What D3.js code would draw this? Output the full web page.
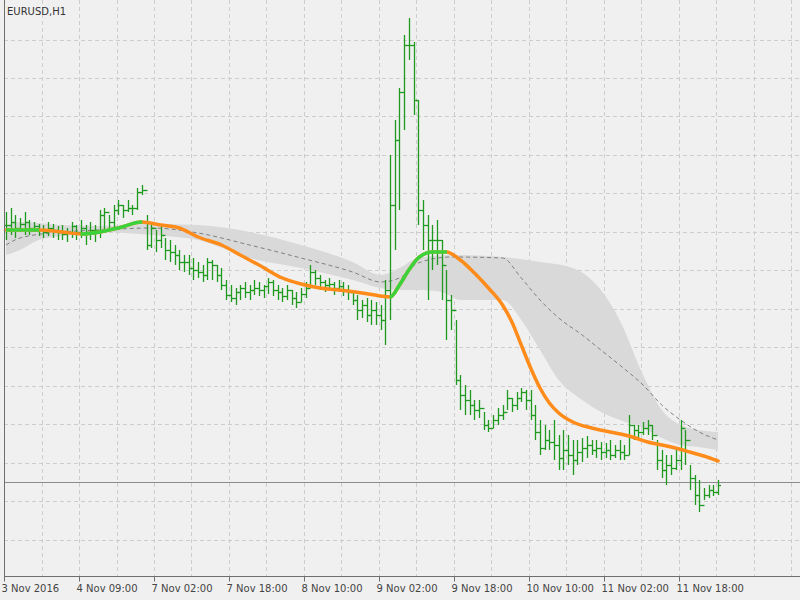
<!DOCTYPE html>
<html><head><meta charset="utf-8">
<script src="https://cdn.jsdelivr.net/npm/d3@7"></script>
<style>body{margin:0;background:#f0f0f0}svg{display:block}</style>
</head><body><svg id="c" width="800" height="600"></svg>
<script>
const highs=[1.1088,1.1092,1.1085,1.1082,1.1088,1.1080,1.1078,1.1076,1.1075,1.1078,1.1076,1.1074,1.1075,1.1072,1.1078,1.1075,1.1080,1.1075,1.1078,1.1075,
1.1090,1.1092,1.1085,1.1095,1.1100,1.1095,1.1100,1.1095,1.1112,1.1115,1.1085,1.1078,1.1070,1.1075,1.1062,1.1060,1.1055,1.1050,1.1045,1.1045,
1.1042,1.1038,1.1035,1.1042,1.1040,1.1035,1.1032,1.1020,1.1015,1.1012,1.1015,1.1018,1.1015,1.1020,1.1018,1.1015,1.1022,1.1020,1.1015,1.1012,
1.1015,1.1010,1.1008,1.1012,1.1018,1.1035,1.1030,1.1025,1.1020,1.1022,1.1018,1.1020,1.1018,1.1015,1.1010,1.1005,1.1000,1.1002,1.1000,1.0998,
1.0995,1.1020,1.1145,1.1180,1.1212,1.1265,1.1282,1.1258,1.1200,1.1100,1.1085,1.1075,1.1080,1.1060,1.1030,1.1005,1.0980,1.0925,1.0915,1.0910,
1.0900,1.0900,1.0888,1.0880,1.0885,1.0892,1.0895,1.0910,1.0902,1.0908,1.0912,1.0910,1.0910,1.0895,1.0880,1.0875,1.0870,1.0880,1.0865,1.0870,
1.0865,1.0860,1.0860,1.0862,1.0864,1.0860,1.0860,1.0858,1.0857,1.0860,1.0855,1.0860,1.0855,1.0885,1.0875,1.0875,1.0878,1.0880,1.0875,1.0860,
1.0850,1.0845,1.0845,1.0850,1.0880,1.0870,1.0835,1.0825,1.0820,1.0812,1.0815,1.0815,1.0820];
const lows=[1.1060,1.1065,1.1062,1.1068,1.1065,1.1065,1.1068,1.1064,1.1062,1.1064,1.1062,1.1060,1.1060,1.1058,1.1062,1.1060,1.1062,1.1055,1.1060,1.1058,
1.1062,1.1068,1.1070,1.1070,1.1085,1.1082,1.1088,1.1085,1.1090,1.1105,1.1050,1.1052,1.1048,1.1052,1.1040,1.1038,1.1035,1.1030,1.1028,1.1025,
1.1020,1.1022,1.1018,1.1020,1.1020,1.1018,1.1010,1.1000,1.0998,1.0995,1.1000,1.1002,1.1000,1.1005,1.1004,1.1002,1.1006,1.1004,1.1000,1.0998,
1.1000,1.0995,1.0992,1.0998,1.1002,1.1012,1.1015,1.1010,1.1008,1.1010,1.1005,1.1008,1.1004,1.1000,1.0995,1.0980,1.0982,1.0978,1.0975,1.0975,
1.0970,1.0955,1.0980,1.1050,1.1090,1.1170,1.1240,1.1185,1.1075,1.1050,1.1000,1.1030,1.1035,1.1000,1.0960,1.0970,1.0915,1.0890,1.0885,1.0885,
1.0880,1.0882,1.0870,1.0868,1.0872,1.0875,1.0880,1.0890,1.0888,1.0890,1.0898,1.0890,1.0880,1.0860,1.0845,1.0850,1.0850,1.0840,1.0830,1.0830,
1.0835,1.0825,1.0835,1.0838,1.0842,1.0845,1.0842,1.0840,1.0842,1.0840,1.0842,1.0840,1.0840,1.0845,1.0860,1.0860,1.0865,1.0865,1.0860,1.0830,
1.0822,1.0815,1.0825,1.0830,1.0830,1.0835,1.0810,1.0795,1.0788,1.0800,1.0802,1.0804,1.0805];
const closes=[1.1075,1.1078,1.1072,1.1076,1.1078,1.1072,1.1074,1.1070,1.1068,1.1072,1.1070,1.1068,1.1066,1.1068,1.1074,1.1068,1.1072,1.1068,1.1070,1.1070,
1.1085,1.1088,1.1078,1.1090,1.1095,1.1090,1.1092,1.1092,1.1108,1.1110,1.1055,1.1072,1.1060,1.1065,1.1050,1.1048,1.1045,1.1038,1.1038,1.1032,
1.1030,1.1028,1.1025,1.1038,1.1035,1.1025,1.1015,1.1005,1.1002,1.1008,1.1012,1.1008,1.1010,1.1012,1.1010,1.1014,1.1018,1.1010,1.1008,1.1004,
1.1010,1.1002,1.0998,1.1006,1.1012,1.1028,1.1022,1.1018,1.1015,1.1016,1.1012,1.1014,1.1010,1.1008,1.1000,1.0990,1.0995,1.0985,1.0990,1.0985,
1.0980,1.1010,1.1095,1.1160,1.1208,1.1255,1.1255,1.1200,1.1090,1.1075,1.1060,1.1060,1.1060,1.1035,1.1000,1.0990,1.0920,1.0905,1.0900,1.0895,
1.0890,1.0892,1.0875,1.0872,1.0880,1.0885,1.0888,1.0902,1.0895,1.0902,1.0908,1.0900,1.0885,1.0868,1.0852,1.0860,1.0858,1.0855,1.0842,1.0850,
1.0845,1.0840,1.0848,1.0852,1.0855,1.0850,1.0852,1.0848,1.0850,1.0845,1.0850,1.0848,1.0845,1.0875,1.0870,1.0868,1.0872,1.0875,1.0865,1.0840,
1.0830,1.0835,1.0832,1.0840,1.0872,1.0860,1.0822,1.0805,1.0795,1.0805,1.0810,1.0808,1.0815];
const maLine=[[0,1.1070],[7,1.1070],[12,1.1068],[16,1.1066],[20,1.1068],[22,1.1070],[24,1.1072],[29,1.1078],[33,1.1075],[37,1.1072],[41,1.1063],[46,1.1055],[50,1.1045],[54,1.1035],[59,1.1022],[63,1.1016],[67,1.1012],[71,1.1010],[76,1.1007],[80,1.1004],[82,1.1003],[84,1.1015],[86,1.1030],[88,1.1042],[91,1.1048],[94,1.1048],[97,1.1040],[100,1.1027],[103,1.1012],[106,1.0995],[108,1.0978],[110,1.0955],[112,1.0932],[114,1.0912],[116,1.0897],[118,1.0887],[121,1.0878],[125,1.0872],[129,1.0868],[133,1.0864],[137,1.0858],[142,1.0853],[146,1.0848],[149,1.0844],[152,1.0839]];
const bandUpper=[[0,1.1074],[3,1.1078],[12,1.1075],[20,1.1074],[31,1.1076],[41,1.1075],[52,1.1068],[63,1.1055],[74,1.1038],[80,1.1025],[84,1.1032],[88,1.1042],[95,1.1045],[106,1.1043],[114,1.1038],[121,1.1032],[127,1.1010],[131,1.0980],[136,1.0925],[140,1.0890],[144,1.0875],[148,1.0870],[152,1.0868]];
const bandLower=[[0,1.1045],[3,1.1050],[7,1.1060],[12,1.1064],[20,1.1068],[31,1.1065],[41,1.1060],[52,1.1042],[63,1.1032],[74,1.1020],[80,1.1012],[84,1.1010],[88,1.1010],[93,1.1008],[97,1.1000],[106,1.1000],[110,1.0980],[114,1.0950],[118,1.0920],[123,1.0900],[127,1.0888],[131,1.0880],[136,1.0872],[140,1.0862],[144,1.0855],[148,1.0853],[152,1.0850]];
const midLine=[[0,1.1055],[3,1.1062],[12,1.1068],[20,1.1070],[31,1.1072],[41,1.1067],[52,1.1055],[63,1.1042],[74,1.1028],[80,1.1018],[84,1.1022],[88,1.1037],[95,1.1043],[106,1.1042],[110,1.1022],[114,1.1000],[118,1.0982],[123,1.0965],[127,1.0950],[131,1.0935],[136,1.0915],[140,1.0895],[144,1.0880],[148,1.0868],[152,1.0860]];
const bidPrice=1.0818;
const priceGrid=[1.1260,1.1222,1.1184,1.1145,1.1107,1.1068,1.1030,1.0991,1.0953,1.0914,1.0876,1.0837,1.0799,1.0760];
const timeLabels=["3 Nov 2016","4 Nov 09:00","7 Nov 02:00","7 Nov 18:00","8 Nov 10:00","9 Nov 02:00","9 Nov 18:00","10 Nov 10:00","11 Nov 02:00","11 Nov 18:00"];
const timeTickIdx=[0,16,32,48,64,80,96,112,128,144];
const gridIdx=d3.range(8,170,8);

const svg=d3.select("#c");
const L=4,B=576;
const x=d3.scaleLinear().domain([0,152]).range([6,718]);
const y=d3.scaleLinear().domain([1.1300,1.0724]).range([0,B]);
const r=v=>Math.round(v)+.5;

svg.append("rect").attr("width",800).attr("height",600).attr("fill","#f0f0f0");
const g=svg.append("g");
g.selectAll(".hg").data(priceGrid).join("line").attr("x1",L).attr("x2",800).attr("y1",d=>r(y(d))).attr("y2",d=>r(y(d))).attr("stroke","#cdcdcd").attr("stroke-dasharray","4,3");
g.selectAll(".vg").data(gridIdx).join("line").attr("x1",d=>r(x(d-0.4))).attr("x2",d=>r(x(d-0.4))).attr("y1",0).attr("y2",B).attr("stroke","#cdcdcd").attr("stroke-dasharray","4,3");

const lineF=d3.line().x(d=>x(d[0])).y(d=>y(d[1])).curve(d3.curveMonotoneX);
const areaPath=lineF(bandUpper)+"L"+lineF(bandLower.slice().reverse()).slice(1)+"Z";
g.append("path").attr("d",areaPath).attr("fill","#d9d9d9");
g.append("path").attr("d",lineF(midLine)).attr("fill","none").attr("stroke","#808080").attr("stroke-dasharray","4,3");

g.append("line").attr("x1",L).attr("x2",800).attr("y1",r(y(bidPrice))).attr("y2",r(y(bidPrice))).attr("stroke","#8c8c8c");

const col="#1f9a1f";
const bars=g.append("g").attr("stroke",col).attr("stroke-width",1.3);
closes.forEach((c,i)=>{
  const o=i>0?closes[i-1]:c, xi=r(x(i));
  bars.append("line").attr("x1",xi).attr("x2",xi).attr("y1",Math.round(y(highs[i]))).attr("y2",Math.round(y(lows[i])));
  bars.append("line").attr("x1",xi-2.5).attr("x2",xi).attr("y1",r(y(o))).attr("y2",r(y(o)));
  bars.append("line").attr("x1",xi).attr("x2",xi+2.5).attr("y1",r(y(c))).attr("y2",r(y(c)));
});

const defs=svg.append("defs");
const clip=defs.append("clipPath").attr("id","up");
for(let i=0;i<maLine.length-1;i++){
  const a=maLine[i],b=maLine[i+1];
  if(b[1]>=a[1]) clip.append("rect").attr("x",x(a[0])-0.5).attr("width",x(b[0])-x(a[0])+1).attr("y",0).attr("height",600);
}
g.append("path").attr("d",lineF(maLine)).attr("fill","none").attr("stroke","#ff8c1a").attr("stroke-width",3.5).attr("stroke-linecap","round");
g.append("path").attr("d",lineF(maLine)).attr("fill","none").attr("stroke","#3cd23c").attr("stroke-width",3.5).attr("clip-path","url(#up)");

g.append("line").attr("x1",L+.5).attr("x2",L+.5).attr("y1",0).attr("y2",B).attr("stroke","#6e6e6e");
const ax=svg.append("g").attr("transform",`translate(0,${B+.5})`)
 .call(d3.axisBottom(d3.scaleLinear().domain([0,152]).range([4,716.5])).tickValues(timeTickIdx).tickFormat((d,i)=>timeLabels[i]).tickSizeOuter(0).tickSize(5));
ax.select(".domain").attr("d","M4,0H800").attr("stroke","#6e6e6e");
ax.selectAll("line").attr("stroke","#6e6e6e");
ax.selectAll("text").attr("text-anchor","start").attr("dx",-3).attr("y",8).attr("font-family","DejaVu Sans, sans-serif").attr("font-size",10).attr("fill","#444");
svg.append("text").attr("x",7).attr("y",15).text("EURUSD,H1").attr("font-family","DejaVu Sans, sans-serif").attr("font-size",10).attr("fill","#333");
</script></body></html>
